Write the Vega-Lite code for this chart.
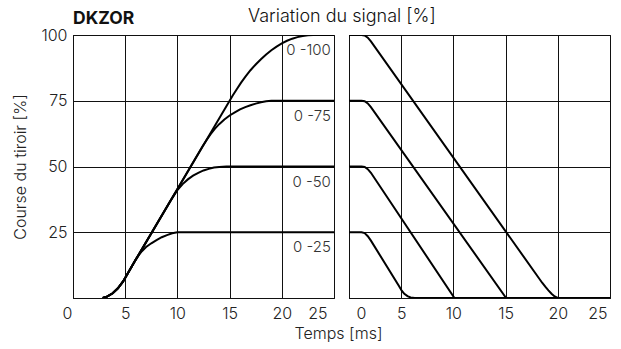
{
  "$schema": "https://vega.github.io/schema/vega-lite/v6.json",
  "padding": {"left": 12, "top": 7, "right": 5, "bottom": 5},
  "background": "white",
  "spacing": 15,
  "bounds": "flush",
  "datasets": {
    "curves": [
      {"panel": "rise", "series": "0-25", "t": 2.85, "v": 0},
      {"panel": "rise", "series": "0-25", "t": 3.3, "v": 0.6},
      {"panel": "rise", "series": "0-25", "t": 3.8, "v": 1.8},
      {"panel": "rise", "series": "0-25", "t": 4.3, "v": 3.7},
      {"panel": "rise", "series": "0-25", "t": 4.8, "v": 6.3},
      {"panel": "rise", "series": "0-25", "t": 5.2, "v": 9.0},
      {"panel": "rise", "series": "0-25", "t": 5.6, "v": 11.8},
      {"panel": "rise", "series": "0-25", "t": 6.0, "v": 14.5},
      {"panel": "rise", "series": "0-25", "t": 6.3, "v": 16.3},
      {"panel": "rise", "series": "0-25", "t": 6.6, "v": 17.8},
      {"panel": "rise", "series": "0-25", "t": 7.0, "v": 19.4},
      {"panel": "rise", "series": "0-25", "t": 7.5, "v": 20.8},
      {"panel": "rise", "series": "0-25", "t": 8.0, "v": 22.0},
      {"panel": "rise", "series": "0-25", "t": 8.5, "v": 23.1},
      {"panel": "rise", "series": "0-25", "t": 9.0, "v": 23.9},
      {"panel": "rise", "series": "0-25", "t": 9.5, "v": 24.6},
      {"panel": "rise", "series": "0-25", "t": 10.0, "v": 25},
      {"panel": "rise", "series": "0-25", "t": 25, "v": 25},

      {"panel": "rise", "series": "0-50", "t": 2.85, "v": 0},
      {"panel": "rise", "series": "0-50", "t": 3.3, "v": 0.6},
      {"panel": "rise", "series": "0-50", "t": 3.8, "v": 1.8},
      {"panel": "rise", "series": "0-50", "t": 4.3, "v": 3.7},
      {"panel": "rise", "series": "0-50", "t": 4.8, "v": 6.3},
      {"panel": "rise", "series": "0-50", "t": 5.2, "v": 9.0},
      {"panel": "rise", "series": "0-50", "t": 5.6, "v": 11.8},
      {"panel": "rise", "series": "0-50", "t": 6.0, "v": 14.5},
      {"panel": "rise", "series": "0-50", "t": 9.3, "v": 36.7},
      {"panel": "rise", "series": "0-50", "t": 9.7, "v": 39.2},
      {"panel": "rise", "series": "0-50", "t": 10.0, "v": 41.0},
      {"panel": "rise", "series": "0-50", "t": 10.5, "v": 43.3},
      {"panel": "rise", "series": "0-50", "t": 11.0, "v": 45.1},
      {"panel": "rise", "series": "0-50", "t": 11.5, "v": 46.5},
      {"panel": "rise", "series": "0-50", "t": 12.0, "v": 47.6},
      {"panel": "rise", "series": "0-50", "t": 12.5, "v": 48.5},
      {"panel": "rise", "series": "0-50", "t": 13.0, "v": 49.1},
      {"panel": "rise", "series": "0-50", "t": 13.5, "v": 49.6},
      {"panel": "rise", "series": "0-50", "t": 14.0, "v": 49.85},
      {"panel": "rise", "series": "0-50", "t": 14.7, "v": 50},
      {"panel": "rise", "series": "0-50", "t": 25, "v": 50},

      {"panel": "rise", "series": "0-75", "t": 2.85, "v": 0},
      {"panel": "rise", "series": "0-75", "t": 3.3, "v": 0.6},
      {"panel": "rise", "series": "0-75", "t": 3.8, "v": 1.8},
      {"panel": "rise", "series": "0-75", "t": 4.3, "v": 3.7},
      {"panel": "rise", "series": "0-75", "t": 4.8, "v": 6.3},
      {"panel": "rise", "series": "0-75", "t": 5.2, "v": 9.0},
      {"panel": "rise", "series": "0-75", "t": 5.6, "v": 11.8},
      {"panel": "rise", "series": "0-75", "t": 6.0, "v": 14.5},
      {"panel": "rise", "series": "0-75", "t": 12.4, "v": 57.6},
      {"panel": "rise", "series": "0-75", "t": 12.8, "v": 60.1},
      {"panel": "rise", "series": "0-75", "t": 13.2, "v": 62.4},
      {"panel": "rise", "series": "0-75", "t": 13.6, "v": 64.4},
      {"panel": "rise", "series": "0-75", "t": 14.0, "v": 66.1},
      {"panel": "rise", "series": "0-75", "t": 14.5, "v": 67.9},
      {"panel": "rise", "series": "0-75", "t": 15.0, "v": 69.4},
      {"panel": "rise", "series": "0-75", "t": 15.5, "v": 70.6},
      {"panel": "rise", "series": "0-75", "t": 16.0, "v": 71.7},
      {"panel": "rise", "series": "0-75", "t": 16.5, "v": 72.6},
      {"panel": "rise", "series": "0-75", "t": 17.0, "v": 73.3},
      {"panel": "rise", "series": "0-75", "t": 17.5, "v": 73.9},
      {"panel": "rise", "series": "0-75", "t": 18.0, "v": 74.4},
      {"panel": "rise", "series": "0-75", "t": 18.5, "v": 74.8},
      {"panel": "rise", "series": "0-75", "t": 19.0, "v": 75},
      {"panel": "rise", "series": "0-75", "t": 25, "v": 75},

      {"panel": "rise", "series": "0-100", "t": 2.85, "v": 0},
      {"panel": "rise", "series": "0-100", "t": 3.3, "v": 0.6},
      {"panel": "rise", "series": "0-100", "t": 3.8, "v": 1.8},
      {"panel": "rise", "series": "0-100", "t": 4.3, "v": 3.7},
      {"panel": "rise", "series": "0-100", "t": 4.8, "v": 6.3},
      {"panel": "rise", "series": "0-100", "t": 5.2, "v": 9.0},
      {"panel": "rise", "series": "0-100", "t": 5.6, "v": 11.8},
      {"panel": "rise", "series": "0-100", "t": 6.0, "v": 14.5},
      {"panel": "rise", "series": "0-100", "t": 15.3, "v": 77.0},
      {"panel": "rise", "series": "0-100", "t": 15.7, "v": 79.5},
      {"panel": "rise", "series": "0-100", "t": 16.1, "v": 81.9},
      {"panel": "rise", "series": "0-100", "t": 16.5, "v": 84.1},
      {"panel": "rise", "series": "0-100", "t": 17.0, "v": 86.6},
      {"panel": "rise", "series": "0-100", "t": 17.5, "v": 88.8},
      {"panel": "rise", "series": "0-100", "t": 18.0, "v": 90.8},
      {"panel": "rise", "series": "0-100", "t": 18.5, "v": 92.6},
      {"panel": "rise", "series": "0-100", "t": 19.0, "v": 94.2},
      {"panel": "rise", "series": "0-100", "t": 19.5, "v": 95.6},
      {"panel": "rise", "series": "0-100", "t": 20.0, "v": 96.8},
      {"panel": "rise", "series": "0-100", "t": 20.5, "v": 97.8},
      {"panel": "rise", "series": "0-100", "t": 21.0, "v": 98.6},
      {"panel": "rise", "series": "0-100", "t": 21.5, "v": 99.2},
      {"panel": "rise", "series": "0-100", "t": 22.0, "v": 99.6},
      {"panel": "rise", "series": "0-100", "t": 22.5, "v": 99.9},
      {"panel": "rise", "series": "0-100", "t": 23.0, "v": 100},
      {"panel": "rise", "series": "0-100", "t": 25, "v": 100},

      {"panel": "fall", "series": "100-0", "t": 0, "v": 100},
      {"panel": "fall", "series": "100-0", "t": 1.2, "v": 100},
      {"panel": "fall", "series": "100-0", "t": 1.5, "v": 99.8},
      {"panel": "fall", "series": "100-0", "t": 1.8, "v": 99.0},
      {"panel": "fall", "series": "100-0", "t": 2.1, "v": 97.6},
      {"panel": "fall", "series": "100-0", "t": 18.5, "v": 5.8},
      {"panel": "fall", "series": "100-0", "t": 18.8, "v": 4.3},
      {"panel": "fall", "series": "100-0", "t": 19.1, "v": 2.9},
      {"panel": "fall", "series": "100-0", "t": 19.4, "v": 1.6},
      {"panel": "fall", "series": "100-0", "t": 19.7, "v": 0.6},
      {"panel": "fall", "series": "100-0", "t": 20.0, "v": 0},
      {"panel": "fall", "series": "100-0", "t": 25, "v": 0},

      {"panel": "fall", "series": "75-0", "t": 0, "v": 75},
      {"panel": "fall", "series": "75-0", "t": 1.2, "v": 75},
      {"panel": "fall", "series": "75-0", "t": 1.5, "v": 74.8},
      {"panel": "fall", "series": "75-0", "t": 1.8, "v": 74.0},
      {"panel": "fall", "series": "75-0", "t": 2.1, "v": 72.6},
      {"panel": "fall", "series": "75-0", "t": 15.05, "v": 0},
      {"panel": "fall", "series": "75-0", "t": 25, "v": 0},

      {"panel": "fall", "series": "50-0", "t": 0, "v": 50},
      {"panel": "fall", "series": "50-0", "t": 1.2, "v": 50},
      {"panel": "fall", "series": "50-0", "t": 1.5, "v": 49.8},
      {"panel": "fall", "series": "50-0", "t": 1.8, "v": 49.0},
      {"panel": "fall", "series": "50-0", "t": 2.1, "v": 47.6},
      {"panel": "fall", "series": "50-0", "t": 10.1, "v": 0},
      {"panel": "fall", "series": "50-0", "t": 25, "v": 0},

      {"panel": "fall", "series": "25-0", "t": 0, "v": 25},
      {"panel": "fall", "series": "25-0", "t": 1.2, "v": 25},
      {"panel": "fall", "series": "25-0", "t": 1.5, "v": 24.7},
      {"panel": "fall", "series": "25-0", "t": 1.8, "v": 23.5},
      {"panel": "fall", "series": "25-0", "t": 2.1, "v": 21.8},
      {"panel": "fall", "series": "25-0", "t": 4.8, "v": 4.5},
      {"panel": "fall", "series": "25-0", "t": 5.05, "v": 2.8},
      {"panel": "fall", "series": "25-0", "t": 5.3, "v": 1.6},
      {"panel": "fall", "series": "25-0", "t": 5.6, "v": 0.7},
      {"panel": "fall", "series": "25-0", "t": 5.9, "v": 0.2},
      {"panel": "fall", "series": "25-0", "t": 6.3, "v": 0},
      {"panel": "fall", "series": "25-0", "t": 25, "v": 0}
    ],
    "labels": [
      {"label": "0 -100", "level": 100},
      {"label": "0 -75", "level": 75},
      {"label": "0 -50", "level": 50},
      {"label": "0 -25", "level": 25}
    ]
  },
  "hconcat": [
    {
      "width": 261,
      "height": 263,
      "title": {"text": "DKZOR", "anchor": "start", "frame": "group", "font": "Inter", "fontWeight": "bold", "fontSize": 17.5, "color": "#111", "baseline": "alphabetic", "offset": -14},
      "layer": [
        {
          "data": {"name": "curves"},
          "transform": [{"filter": "datum.panel == 'rise'"}],
          "mark": {"type": "line", "color": "black", "strokeWidth": 2, "clip": true},
          "encoding": {
            "x": {
              "field": "t", "type": "quantitative",
              "scale": {"domain": [0, 25], "nice": false},
              "axis": {
                "values": [0, 5, 10, 15, 20, 25],
                "title": "Temps [ms]",
                "titleX": 265,
                "titleAlign": "center",
                "titlePadding": 4,
                "labelOffset": {"condition": [{"test": "datum.value == 0", "value": -11}, {"test": "datum.value == 25", "value": -7}], "value": 0}
              }
            },
            "y": {
              "field": "v", "type": "quantitative",
              "scale": {"domain": [0, 100], "nice": false},
              "axis": {"values": [25, 50, 75, 100], "title": "Course du tiroir [%]", "labelPadding": 6, "titlePadding": 12}
            },
            "detail": {"field": "series"}
          }
        },
        {
          "data": {"name": "labels"},
          "mark": {"type": "text", "align": "right", "baseline": "middle", "dy": 15, "font": "Inter", "fontWeight": 300, "fontSize": 15, "color": "#333"},
          "encoding": {
            "x": {"datum": 24.7, "type": "quantitative"},
            "y": {"field": "level", "type": "quantitative"},
            "text": {"field": "label"}
          }
        }
      ]
    },
    {
      "width": 261,
      "height": 263,
      "title": {"text": "Variation du signal [%]", "anchor": "start", "frame": "group", "dx": -101, "font": "Inter", "fontWeight": 300, "fontSize": 18, "color": "#111", "baseline": "alphabetic", "offset": -5},
      "data": {"name": "curves"},
      "transform": [{"filter": "datum.panel == 'fall'"}],
      "mark": {"type": "line", "color": "black", "strokeWidth": 2, "clip": true},
      "encoding": {
        "x": {
          "field": "t", "type": "quantitative",
          "scale": {"domain": [0, 25], "nice": false},
          "axis": {
            "values": [0, 5, 10, 15, 20, 25],
            "title": null,
            "labelOffset": {"condition": [{"test": "datum.value == 0", "value": 7}, {"test": "datum.value == 25", "value": -3}], "value": 0}
          }
        },
        "y": {
          "field": "v", "type": "quantitative",
          "scale": {"domain": [0, 100], "nice": false},
          "axis": {"values": [0, 25, 50, 75, 100], "title": null, "labels": false}
        },
        "detail": {"field": "series"}
      }
    }
  ],
  "config": {
    "view": {"stroke": "#111", "strokeWidth": 1},
    "axis": {
      "labelFont": "Inter", "labelFontWeight": 300, "labelFontSize": 16, "labelColor": "#222",
      "labelPadding": 7,
      "titleFont": "Inter", "titleFontWeight": 300, "titleFontSize": 16, "titleColor": "#222",
      "ticks": false,
      "grid": true, "gridColor": "#111", "gridOpacity": 1, "gridWidth": 1,
      "domainColor": "#111", "domainWidth": 1
    }
  }
}
